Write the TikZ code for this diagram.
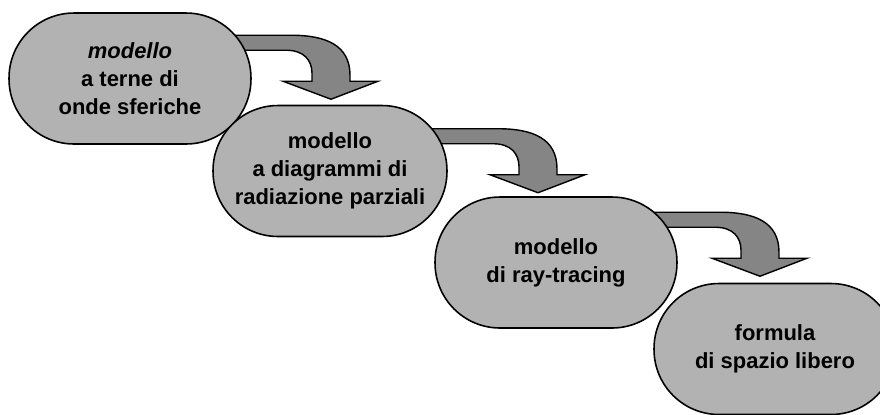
\documentclass[tikz,border=0pt]{standalone}
\usepackage{fontspec}
\setmainfont{Liberation Sans}
\usepackage{tikz}
\usetikzlibrary{calc, backgrounds}
\definecolor{boxgray}{gray}{0.70}
\definecolor{arrowgray}{gray}{0.52}

\begin{document}
\begin{tikzpicture}[
    x=0.02cm, y=-0.02cm,
    box/.style={rectangle, draw, line width=0.9pt, fill=boxgray, rounded corners=1.3cm, minimum width=4.84cm, minimum height=2.62cm, align=center, font=\bfseries\fontsize{12.5}{16}\selectfont},
    bentarrow/.pic={
        \filldraw[fill=arrowgray, line width=0.8pt, line join=miter]
            (-140,0) -- (-40,0) .. controls (-5,0) and (19,10) .. (19,40) -- (19,46) -- (47,46) -- (0,64)
            -- (-48,46) -- (-19,46) -- (-19,38) .. controls (-19,25) and (-27,15) .. (-45,15) -- (-140,15) -- cycle;
    },
]
\useasboundingbox (0,0) rectangle (880,414);
\node[box] (m1) at (130,78.5) {{\itshape modello}\\a terne di\\onde sferiche};
\node[box, minimum width=4.68cm] (m2) at (330,171) {modello\\a diagrammi di\\radiazione parziali};
\node[box] (m3) at (556,262.5) {modello\\di ray-tracing};
\node[box] (m4) at (775,349) {formula\\di spazio libero};

\begin{scope}[on background layer]
\pic at ($(m2.north |- m1.north)+(1,23)$) {bentarrow};
\pic at ($(m3.north |- m2.north)+(-18,24)$) {bentarrow};
\pic at ($(m4.north |- m3.north)+(-15,16)$) {bentarrow};
\end{scope}
\end{tikzpicture}
\end{document}
